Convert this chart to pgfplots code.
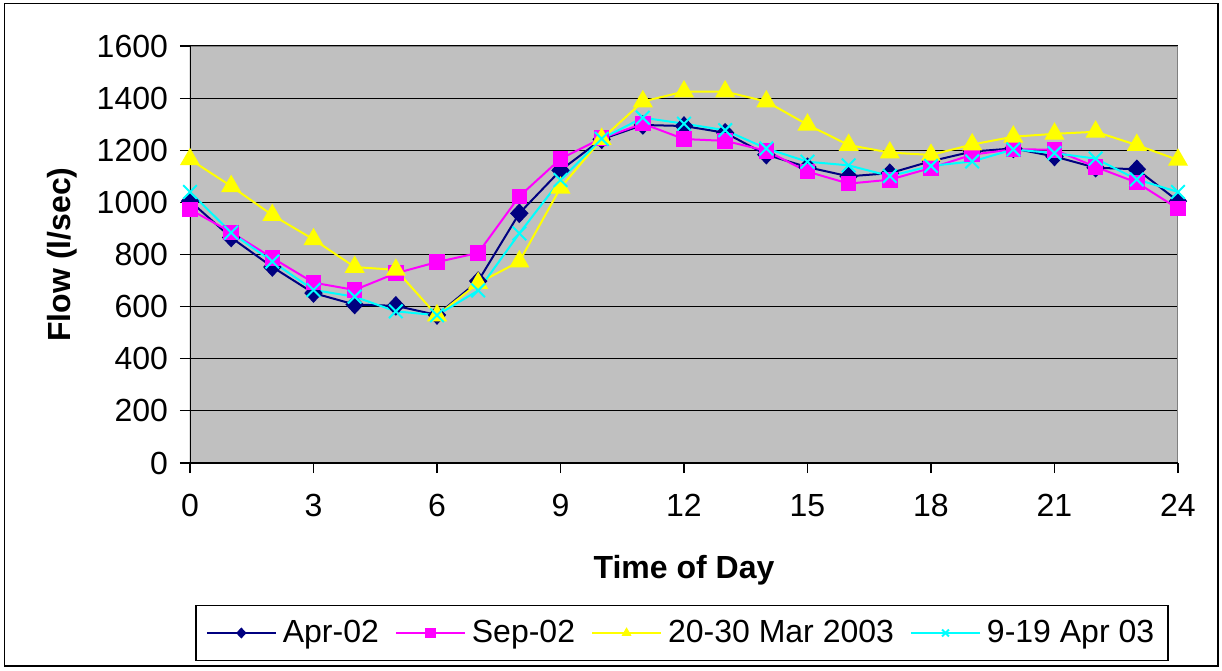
\documentclass[border=0pt]{standalone}
\usepackage{pgfplots}
\pgfplotsset{compat=1.18}
\usepackage{fontspec}
\setmainfont{Liberation Sans}

\definecolor{plotgray}{HTML}{C0C0C0}
\definecolor{framegray}{HTML}{808080}
\definecolor{sNavy}{HTML}{000080}
\definecolor{sMagenta}{HTML}{FF00FF}
\definecolor{sYellow}{HTML}{FFFF00}
\definecolor{sCyan}{HTML}{00FFFF}

\newcommand{\chartfont}{\fontsize{16}{19}\selectfont}

\begin{document}
\begin{tikzpicture}
\useasboundingbox (-95pt,-103.5pt) rectangle (516pt,231.5pt);
\draw[line width=0.8pt] (-92.75pt,-101.5pt) rectangle (514pt,229.75pt);
\begin{axis}[
  at={(0,0)}, anchor=south west,
  scale only axis,
  width=494pt, height=208.5pt,
  xmin=0, xmax=24, ymin=0, ymax=1600,
  xtick={0,3,...,24},
  ytick={0,200,...,1600},
  axis background/.style={fill=plotgray},
  axis line style={draw=none},
  ymajorgrids,
  major grid style={black, line width=0.6pt},
  tick align=outside,
  major tick length=5pt,
  xtick pos=bottom, ytick pos=left,
  tick style={black, line width=0.6pt},
  /pgf/number format/assume math mode=true,
  /pgf/number format/1000 sep={},
  tick label style={font=\chartfont},
  xticklabel style={yshift=-7pt},
  yticklabel style={xshift=-2.5pt},
  xlabel={\textbf{Time of Day}},
  ylabel={\textbf{Flow (l/sec)}},
  label style={font=\chartfont},
  xlabel style={at={(axis description cs:0.5,-0.258)}, anchor=center},
  ylabel style={at={(axis description cs:-0.1296,0.5)}, anchor=center},
  legend style={
    at={(axis description cs:0.498,-0.4077)}, anchor=center,
    legend columns=4, draw=black, line width=0.8pt,
    font=\chartfont, inner xsep=5pt, inner ysep=5.5pt,
    /tikz/every odd column/.append style={column sep=1pt},
    /tikz/every even column/.append style={column sep=6pt},
  },
  legend image code/.code={
    \draw[#1, mark=none] (0pt,0pt) -- (34.5pt,0pt);
    \draw[#1, mark size=2.4pt, line width=0.5pt] plot coordinates {(17.25pt,0pt)};
  },
  every axis plot/.append style={line width=1pt},
]
% plot-area frame: dark left/bottom edges, grey top/right edges
\draw[framegray, line width=0.8pt] (rel axis cs:0,1) -- (rel axis cs:1,1) -- (rel axis cs:1,0);
\draw[black, line width=0.8pt] (rel axis cs:0,1) -- (rel axis cs:0,0) -- (rel axis cs:1,0);

\addplot[sNavy, mark=diamond*, mark size=4.2pt, mark options={fill=sNavy, draw=sNavy, xscale=1.25}] coordinates {
(0,1005) (1,865) (2,752) (3,652) (4,608) (5,603) (6,568) (7,698) (8,958) (9,1123)
(10,1242) (11,1297) (12,1293) (13,1267) (14,1183) (15,1135) (16,1100) (17,1112)
(18,1158) (19,1195) (20,1207) (21,1176) (22,1133) (23,1127) (24,1005)};
\addlegendentry{Apr-02}

\addplot[sMagenta, mark=square*, mark size=3.4pt, mark options={fill=sMagenta, draw=sMagenta}] coordinates {
(0,973) (1,885) (2,787) (3,692) (4,664) (5,728) (6,771) (7,806) (8,1023) (9,1167)
(10,1246) (11,1302) (12,1243) (13,1236) (14,1198) (15,1118) (16,1072) (17,1087)
(18,1132) (19,1183) (20,1204) (21,1202) (22,1136) (23,1076) (24,976)};
\addlegendentry{Sep-02}

\addplot[sYellow, mark=triangle*, mark size=4.8pt, mark options={fill=sYellow, draw=sYellow}] coordinates {
(0,1165) (1,1062) (2,951) (3,858) (4,752) (5,741) (6,566) (7,690) (8,773) (9,1056)
(10,1243) (11,1387) (12,1425) (13,1425) (14,1387) (15,1298) (16,1220) (17,1191)
(18,1182) (19,1222) (20,1252) (21,1263) (22,1271) (23,1220) (24,1163)};
\addlegendentry{20-30 Mar 2003}

\addplot[sCyan, mark=x, mark size=4.8pt, mark options={draw=sCyan, line width=1pt}] coordinates {
(0,1040) (1,884) (2,773) (3,664) (4,638) (5,582) (6,567) (7,662) (8,881) (9,1086)
(10,1244) (11,1325) (12,1302) (13,1277) (14,1207) (15,1156) (16,1142) (17,1101)
(18,1140) (19,1157) (20,1203) (21,1189) (22,1168) (23,1088) (24,1040)};
\addlegendentry{9-19 Apr 03}
\end{axis}
\end{tikzpicture}
\end{document}
